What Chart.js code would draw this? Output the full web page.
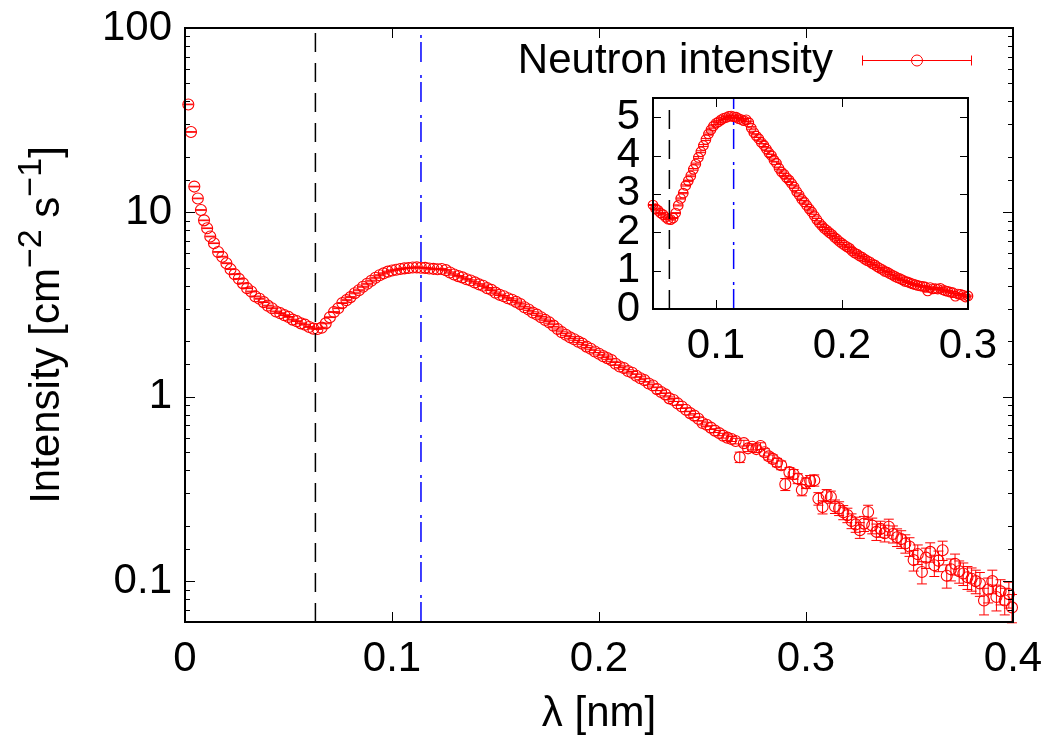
<!DOCTYPE html>
<html>
<head>
<meta charset="utf-8">
<script src="https://cdn.jsdelivr.net/npm/chart.js"></script>
<style>
  html, body { margin: 0; padding: 0; background: #fff; }
  #wrap { position: relative; width: 1051px; height: 738px; }
  #main { position: absolute; left: 0; top: 0; }
  #inset { position: absolute; left: 540px; top: 80px; }
</style>
</head>
<body>
<div id="wrap">
  <canvas id="main" width="1051" height="738"></canvas>
  <canvas id="inset" width="460" height="290"></canvas>
</div>
<script>
// ── Dati ──────────────────────────────────────────────────────────────────
const lambda = [
  0.0016, 0.0029, 0.0045, 0.0062, 0.0077, 0.0092, 0.0107, 0.0122, 0.014, 0.016,
  0.018, 0.020, 0.022, 0.024, 0.026, 0.028, 0.030, 0.032, 0.034, 0.036,
  0.038, 0.040, 0.042, 0.044, 0.046, 0.048, 0.050, 0.052, 0.054, 0.056,
  0.058, 0.060, 0.062, 0.064, 0.066, 0.068, 0.070, 0.072, 0.074, 0.076,
  0.078, 0.080, 0.082, 0.084, 0.086, 0.088, 0.090, 0.092, 0.094, 0.096,
  0.098, 0.100, 0.102, 0.104, 0.106, 0.108, 0.110, 0.112, 0.114, 0.116,
  0.118, 0.120, 0.122, 0.124, 0.126, 0.128, 0.130, 0.132, 0.134, 0.136,
  0.138, 0.140, 0.142, 0.144, 0.146, 0.148, 0.150, 0.152, 0.154, 0.156,
  0.158, 0.160, 0.162, 0.164, 0.166, 0.168, 0.170, 0.172, 0.174, 0.176,
  0.178, 0.180, 0.182, 0.184, 0.186, 0.188, 0.190, 0.192, 0.194, 0.196,
  0.198, 0.200, 0.202, 0.204, 0.206, 0.208, 0.210, 0.212, 0.214, 0.216,
  0.218, 0.220, 0.222, 0.224, 0.226, 0.228, 0.230, 0.232, 0.234, 0.236,
  0.238, 0.240, 0.242, 0.244, 0.246, 0.248, 0.250, 0.252, 0.254, 0.256,
  0.258, 0.260, 0.262, 0.264, 0.266, 0.268, 0.270, 0.272, 0.274, 0.276,
  0.278, 0.280, 0.282, 0.284, 0.286, 0.288, 0.290, 0.292, 0.294, 0.296,
  0.298, 0.300, 0.302, 0.304, 0.306, 0.308, 0.310, 0.312, 0.314, 0.316,
  0.318, 0.320, 0.322, 0.324, 0.326, 0.328, 0.330, 0.332, 0.334, 0.336,
  0.338, 0.340, 0.342, 0.344, 0.346, 0.348, 0.350, 0.352, 0.354, 0.356,
  0.358, 0.360, 0.362, 0.364, 0.366, 0.368, 0.370, 0.372, 0.374, 0.376,
  0.378, 0.380, 0.382, 0.384, 0.386, 0.388, 0.390, 0.392, 0.394, 0.396,
  0.398, 0.3995,
];

const intensity = [
  38.5, 27.3, 13.8, 11.9, 10.3, 9.05, 8.2, 7.4, 6.8, 6.1,
  5.75, 5.3, 4.92, 4.62, 4.36, 4.12, 3.88, 3.72, 3.5, 3.4,
  3.26, 3.12, 3.02, 2.9, 2.84, 2.77, 2.71, 2.62, 2.57, 2.5,
  2.46, 2.39, 2.34, 2.33, 2.37, 2.5, 2.7, 2.88, 3.02, 3.22,
  3.34, 3.47, 3.64, 3.78, 3.95, 4.1, 4.26, 4.42, 4.56, 4.67,
  4.77, 4.84, 4.88, 4.93, 4.97, 4.99, 5.02, 5.03, 5.01, 5.0,
  4.96, 4.94, 4.91, 4.93, 4.86, 4.72, 4.6, 4.51, 4.44, 4.34,
  4.27, 4.17, 4.07, 4.0, 3.88, 3.8, 3.67, 3.57, 3.51, 3.42,
  3.36, 3.27, 3.18, 3.06, 2.97, 2.86, 2.79, 2.7, 2.61, 2.53,
  2.43, 2.33, 2.24, 2.17, 2.1, 2.05, 1.99, 1.94, 1.87, 1.82,
  1.76, 1.71, 1.66, 1.62, 1.58, 1.51, 1.46, 1.43, 1.38, 1.35,
  1.3, 1.26, 1.23, 1.18, 1.15, 1.1, 1.06, 1.03, 0.98, 0.96,
  0.92, 0.885, 0.85, 0.815, 0.79, 0.76, 0.72, 0.705, 0.68, 0.655,
  0.635, 0.615, 0.6, 0.59, 0.575, 0.47, 0.56, 0.525, 0.535, 0.52,
  0.54, 0.5, 0.475, 0.46, 0.44, 0.425, 0.335, 0.39, 0.38, 0.36,
  0.312, 0.34, 0.35, 0.352, 0.28, 0.252, 0.292, 0.286, 0.254, 0.248,
  0.236, 0.228, 0.212, 0.203, 0.189, 0.205, 0.237, 0.2, 0.185, 0.192,
  0.182, 0.197, 0.18, 0.173, 0.169, 0.16, 0.154, 0.13, 0.14, 0.112,
  0.134, 0.144, 0.122, 0.129, 0.147, 0.107, 0.116, 0.124, 0.113, 0.11,
  0.105, 0.103, 0.1, 0.097, 0.0785, 0.09, 0.1, 0.082, 0.088, 0.0785,
  0.085, 0.072,
];

// errore relativo in percento
const relErr = [
  0.4, 0.4, 0.4, 0.4, 0.4, 0.4, 0.4, 0.4, 0.4, 0.4,
  0.5, 0.5, 0.5, 0.5, 0.5, 0.5, 0.5, 0.5, 0.5, 0.5,
  0.5, 0.5, 0.5, 0.5, 0.5, 0.5, 0.5, 0.5, 0.5, 0.5,
  0.5, 0.5, 0.5, 0.5, 0.5, 0.5, 0.5, 0.5, 0.5, 0.5,
  0.6, 0.6, 0.6, 0.6, 0.6, 0.6, 0.6, 0.6, 0.6, 0.6,
  0.6, 0.6, 0.6, 0.6, 0.6, 0.6, 0.6, 0.6, 0.6, 0.6,
  0.7, 0.7, 0.7, 0.7, 0.7, 0.7, 0.7, 0.7, 0.7, 0.7,
  0.8, 0.8, 0.8, 0.8, 0.8, 0.8, 0.8, 0.8, 0.8, 0.8,
  1.0, 1.0, 1.0, 1.0, 1.0, 1.0, 1.0, 1.0, 1.0, 1.0,
  1.2, 1.2, 1.2, 1.2, 1.2, 1.2, 1.2, 1.2, 1.2, 1.2,
  1.5, 1.5, 1.5, 1.5, 1.5, 1.5, 1.5, 1.5, 1.5, 1.5,
  1.8, 1.8, 1.8, 1.8, 1.8, 1.8, 1.8, 1.8, 1.8, 1.8,
  2.4, 2.4, 2.4, 2.4, 2.4, 2.4, 2.4, 2.4, 2.4, 2.4,
  3.2, 3.0, 3.4, 3.1, 3.5, 6.5, 3.6, 4.0, 3.8, 4.2,
  4.2, 4.6, 4.4, 5.0, 5.2, 5.4, 7.5, 5.8, 6.0, 6.2,
  7.0, 6.6, 6.8, 7.0, 7.8, 8.2, 7.4, 7.6, 8.4, 8.6,
  8.8, 9.0, 9.2, 9.4, 9.8, 9.4, 8.8, 9.8, 10.2, 10.0,
  10.4, 10.0, 10.6, 11.0, 11.0, 11.4, 11.6, 12.8, 12.2, 13.8,
  12.6, 12.0, 13.2, 12.8, 12.0, 14.4, 13.6, 13.0, 13.8, 14.0,
  14.2, 14.4, 14.6, 14.8, 16.5, 15.4, 14.6, 16.0, 15.6, 16.5,
  16.0, 17.5,
];

// linee verticali: minimo e massimo dello spettro
const dipLambda = 0.063;
const peakLambda = 0.114;

// assi
const mainXRange = [0, 0.4];
const mainYRange = [0.06, 100];
const mainXTicks = [0, 0.1, 0.2, 0.3, 0.4];
const insetXRange = [0.05, 0.3];
const insetYRange = [0, 5.5];
const insetXTicks = [0.1, 0.2, 0.3];
const insetYTicks = [0, 1, 2, 3, 4, 5];

const legendLabel = 'Neutron intensity';
const xTitle = 'λ [nm]';
const yTitleParts = [
  { t: 'Intensity [cm' }, { t: '−2', sup: true }, { t: ' s' }, { t: '−1', sup: true }, { t: ']' },
];

// ── Stile ──────────────────────────────────────────────────────────────────
const FONT = '"Liberation Sans", Arial, Helvetica, sans-serif';
const FS = 42;
const RED = '#ff0000';
Chart.defaults.font.family = FONT;
Chart.defaults.font.size = FS;
Chart.defaults.color = '#000';

const points = lambda.map((x, i) => ({ x, y: intensity[i], e: intensity[i] * relErr[i] / 100 }));

const isDecade = v => {
  const l = Math.log10(v);
  return Math.abs(l - Math.round(l)) < 1e-6;
};

// ── Barre d'errore (verticali, con cappelli) ───────────────────────────────
const errorBars = {
  id: 'errorBars',
  afterDatasetDraw(chart, args) {
    if (args.index !== 0) return;
    const { ctx, scales: { x, y } } = chart;
    const cap = 5;
    ctx.save();
    ctx.strokeStyle = RED;
    ctx.lineWidth = 1;
    ctx.beginPath();
    chart.data.datasets[0].data.forEach(p => {
      const px = x.getPixelForValue(p.x);
      const y1 = y.getPixelForValue(p.y - p.e);
      const y2 = y.getPixelForValue(p.y + p.e);
      ctx.moveTo(px, y1); ctx.lineTo(px, y2);
      ctx.moveTo(px - cap, y1); ctx.lineTo(px + cap, y1);
      ctx.moveTo(px - cap, y2); ctx.lineTo(px + cap, y2);
    });
    ctx.stroke();
    ctx.restore();
  },
};

// ── Cornice e tacche interne (stile gnuplot) ───────────────────────────────
function frameTicks(xLen, yLen, isMajorY) {
  return {
    id: 'frameTicks',
    afterDatasetsDraw(chart) {
      const { ctx, chartArea: a, scales: { x, y } } = chart;
      ctx.save();
      ctx.strokeStyle = '#000';
      ctx.lineWidth = 1;
      ctx.beginPath();
      x.ticks.forEach(t => {
        const px = Math.round(x.getPixelForValue(t.value)) + 0.5;
        ctx.moveTo(px, a.bottom); ctx.lineTo(px, a.bottom - xLen);
        ctx.moveTo(px, a.top); ctx.lineTo(px, a.top + xLen);
      });
      y.ticks.forEach(t => {
        const py = Math.round(y.getPixelForValue(t.value)) + 0.5;
        const len = isMajorY(t.value) ? yLen : yLen / 2;
        ctx.moveTo(a.left, py); ctx.lineTo(a.left + len, py);
        ctx.moveTo(a.right, py); ctx.lineTo(a.right - len, py);
      });
      ctx.stroke();
      ctx.lineWidth = 2;
      ctx.strokeRect(a.left, a.top, a.right - a.left, a.bottom - a.top);
      ctx.restore();
    },
  };
}

// ── Titoli e legenda ───────────────────────────────────────────────────────
const labels = {
  id: 'labels',
  afterDraw(chart) {
    const { ctx, chartArea: a } = chart;
    ctx.save();
    ctx.fillStyle = '#000';

    // titolo asse x
    ctx.font = `${FS}px ${FONT}`;
    ctx.textAlign = 'center';
    ctx.textBaseline = 'alphabetic';
    ctx.fillText(xTitle, (a.left + a.right) / 2, 726);

    // titolo asse y con apici
    const supFs = Math.round(FS * 0.8);
    const widths = yTitleParts.map(p => {
      ctx.font = `${p.sup ? supFs : FS}px ${FONT}`;
      return ctx.measureText(p.t).width;
    });
    const total = widths.reduce((s, w) => s + w, 0);
    ctx.translate(59, (a.top + a.bottom) / 2);
    ctx.rotate(-Math.PI / 2);
    ctx.textAlign = 'left';
    let cx = -total / 2;
    yTitleParts.forEach((p, i) => {
      ctx.font = `${p.sup ? supFs : FS}px ${FONT}`;
      ctx.fillText(p.t, cx, p.sup ? -FS * 0.42 : 0);
      cx += widths[i];
    });
    ctx.setTransform(1, 0, 0, 1, 0, 0);

    // legenda
    ctx.font = `${FS}px ${FONT}`;
    ctx.textAlign = 'right';
    ctx.fillText(legendLabel, 833, 73);
    const ly = 60.5, lx1 = 862, lx2 = 972, cap = 5;
    ctx.strokeStyle = RED;
    ctx.lineWidth = 1;
    ctx.beginPath();
    ctx.moveTo(lx1, ly); ctx.lineTo(lx2, ly);
    ctx.moveTo(lx1 + 0.5, ly - cap); ctx.lineTo(lx1 + 0.5, ly + cap);
    ctx.moveTo(lx2 - 0.5, ly - cap); ctx.lineTo(lx2 - 0.5, ly + cap);
    ctx.stroke();
    ctx.beginPath();
    ctx.arc((lx1 + lx2) / 2, ly, 5.5, 0, Math.PI * 2);
    ctx.stroke();
    ctx.restore();
  },
};

function fixBox(size, horizontal) {
  return s => {
    if (horizontal) s.height = size; else s.width = size;
    s.paddingTop = 0; s.paddingBottom = 0; s.paddingLeft = 0; s.paddingRight = 0;
  };
}

const pointStyle = {
  borderColor: RED,
  backgroundColor: 'rgba(0,0,0,0)',
  pointRadius: 5.5,
  pointHoverRadius: 5.5,
  pointBorderWidth: 1.1,
  clip: false,
};

function vline(xv, yr, color, dash) {
  return {
    data: [{ x: xv, y: yr[0] }, { x: xv, y: yr[1] }],
    showLine: true,
    borderColor: color,
    borderWidth: 1.5,
    borderDash: dash,
    pointRadius: 0,
    order: 0,
  };
}

const BLACK_DASH = [19, 11];
const BLUE_DASH = [20, 4, 3, 13];

// ── Grafico principale (scala log) ─────────────────────────────────────────
new Chart(document.getElementById('main'), {
  type: 'scatter',
  data: {
    datasets: [
      { ...pointStyle, data: points, order: 1 },
      vline(dipLambda, mainYRange, '#000', BLACK_DASH),
      vline(peakLambda, mainYRange, '#0000ff', BLUE_DASH),
    ],
  },
  options: {
    responsive: false,
    animation: false,
    events: [],
    layout: { padding: { left: 0, top: 28, right: 38, bottom: 0 } },
    plugins: { legend: { display: false }, tooltip: { enabled: false } },
    scales: {
      x: {
        type: 'linear', min: mainXRange[0], max: mainXRange[1],
        afterBuildTicks: s => { s.ticks = mainXTicks.map(v => ({ value: v })); },
        afterFit: fixBox(116, true),
        grid: { display: false, drawTicks: false },
        border: { display: false },
        ticks: { padding: 12, maxRotation: 0, autoSkip: false, callback: v => String(v) },
      },
      y: {
        type: 'logarithmic', min: mainYRange[0], max: mainYRange[1],
        afterFit: fixBox(185, false),
        grid: { display: false, drawTicks: false },
        border: { display: false },
        ticks: { padding: 13, autoSkip: false, callback: v => (isDecade(v) ? String(v) : '') },
      },
    },
  },
  plugins: [errorBars, frameTicks(10, 10, isDecade), labels],
});

// ── Inserto (scala lineare) ────────────────────────────────────────────────
const insetPoints = points.filter(p => p.x >= insetXRange[0] && p.x <= insetXRange[1]);

new Chart(document.getElementById('inset'), {
  type: 'scatter',
  data: {
    datasets: [
      { ...pointStyle, pointRadius: 4.8, pointHoverRadius: 4.8, data: insetPoints, order: 1 },
      vline(dipLambda, insetYRange, '#000', BLACK_DASH),
      vline(peakLambda, insetYRange, '#0000ff', BLUE_DASH),
    ],
  },
  options: {
    responsive: false,
    animation: false,
    events: [],
    layout: { padding: { left: 0, top: 18, right: 32, bottom: 0 } },
    plugins: { legend: { display: false }, tooltip: { enabled: false } },
    scales: {
      x: {
        type: 'linear', min: insetXRange[0], max: insetXRange[1],
        afterBuildTicks: s => { s.ticks = insetXTicks.map(v => ({ value: v })); },
        afterFit: fixBox(61, true),
        grid: { display: false, drawTicks: false },
        border: { display: false },
        ticks: { padding: 12, maxRotation: 0, autoSkip: false, callback: v => String(v) },
      },
      y: {
        type: 'linear', min: insetYRange[0], max: insetYRange[1],
        afterBuildTicks: s => { s.ticks = insetYTicks.map(v => ({ value: v })); },
        afterFit: fixBox(113, false),
        grid: { display: false, drawTicks: false },
        border: { display: false },
        ticks: { padding: 13, autoSkip: false, callback: v => String(v) },
      },
    },
  },
  plugins: [errorBars, frameTicks(9, 8, () => true)],
});
</script>
</body>
</html>
